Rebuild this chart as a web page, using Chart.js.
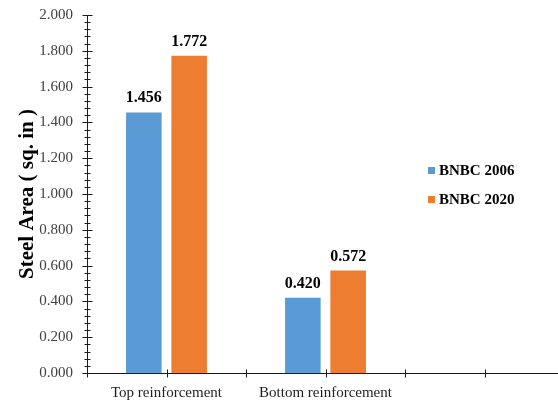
<!DOCTYPE html>
<html>
<head>
<meta charset="utf-8">
<title>Steel Area</title>
<script src="https://cdn.jsdelivr.net/npm/chart.js@4.4.1/dist/chart.umd.min.js"></script>
<style>
  html, body { margin: 0; padding: 0; background: #fff; width: 558px; height: 403px; overflow: hidden; }
  #wrap { position: relative; width: 567px; height: 403px; }
</style>
</head>
<body>
<div id="wrap"><canvas id="chart" width="567" height="403"></canvas></div>
<script>
// Categories along the x axis (blank slots keep the spacing of the axis)
const categories = ["", "Top reinforcement", "", "Bottom reinforcement", "", "", ""];
// Steel area per case, sq. in
const bnbc2006 = [null, 1.456, null, 0.420, null, null, null];
const bnbc2020 = [null, 1.772, null, 0.572, null, null, null];
const seriesNames = ["BNBC 2006", "BNBC 2020"];
const seriesColors = ["#5B9BD5", "#ED7D31"];
// Value axis: range, labelled step and minor step
const yMin = 0, yMax = 2.0, yMajorStep = 0.2, yMinorStep = 0.04;

const SERIF = '"Liberation Serif", "Times New Roman", serif';
const AXIS_COLOR = '#1a1a1a';

function isMajor(v) {
  const r = v / yMajorStep;
  return Math.abs(r - Math.round(r)) < 1e-6;
}

// Tick marks that cross the axis lines (both sides)
const crossTicks = {
  id: 'crossTicks',
  afterDraw(chart) {
    const { ctx, scales: { x, y } } = chart;
    const x0 = Math.round(y.right) + 0.5;
    const y0 = Math.round(x.top) + 0.5;
    ctx.save();
    ctx.strokeStyle = AXIS_COLOR;
    ctx.lineWidth = 1;
    y.ticks.forEach((t, i) => {
      const py = Math.round(y.getPixelForTick(i)) + 0.5;
      const h = isMajor(t.value) ? 5 : 3;
      ctx.beginPath();
      ctx.moveTo(x0 - h, py);
      ctx.lineTo(x0 + h, py);
      ctx.stroke();
    });
    x.ticks.forEach((t, i) => {
      const px = Math.round(x.getPixelForTick(i)) + 0.5;
      ctx.beginPath();
      ctx.moveTo(px, y0 - 4);
      ctx.lineTo(px, y0 + 4);
      ctx.stroke();
    });
    ctx.restore();
  }
};

// Value labels above each bar
const valueLabels = {
  id: 'valueLabels',
  afterDatasetsDraw(chart) {
    const { ctx } = chart;
    ctx.save();
    ctx.font = 'bold 16px ' + SERIF;
    ctx.fillStyle = '#000';
    ctx.textAlign = 'center';
    ctx.textBaseline = 'alphabetic';
    chart.data.datasets.forEach((ds, di) => {
      const meta = chart.getDatasetMeta(di);
      meta.data.forEach((bar, i) => {
        const v = ds.data[i];
        if (v === null || v === undefined) return;
        ctx.fillText(v.toFixed(3), bar.x, bar.y - 10);
      });
    });
    ctx.restore();
  }
};

// Legend drawn at the right of the plot
const sideLegend = {
  id: 'sideLegend',
  afterDraw(chart) {
    const { ctx } = chart;
    ctx.save();
    ctx.font = 'bold 15px ' + SERIF;
    ctx.textBaseline = 'middle';
    ctx.textAlign = 'left';
    chart.data.datasets.forEach((ds, i) => {
      const cy = 171 + i * 28.5;
      ctx.fillStyle = ds.backgroundColor;
      ctx.fillRect(428, Math.round(cy) - 4, 7, 7);
      ctx.fillStyle = '#000';
      ctx.fillText(ds.label, 439, cy + 0.5);
    });
    ctx.restore();
  }
};

new Chart(document.getElementById('chart'), {
  type: 'bar',
  data: {
    labels: categories,
    datasets: [
      { label: seriesNames[0], data: bnbc2006, backgroundColor: seriesColors[0] },
      { label: seriesNames[1], data: bnbc2020, backgroundColor: seriesColors[1] }
    ]
  },
  options: {
    responsive: false,
    animation: false,
    devicePixelRatio: 1,
    layout: { padding: { top: 8, left: 0, right: 0, bottom: 0 } },
    datasets: { bar: { categoryPercentage: 1.14, barPercentage: 0.785 } },
    plugins: { legend: { display: false }, tooltip: { enabled: false } },
    scales: {
      x: {
        offset: false,
        grid: { display: false },
        border: { display: true, color: AXIS_COLOR, width: 1 },
        ticks: {
          autoSkip: false,
          maxRotation: 0,
          padding: 3,
          color: '#1f1f1f',
          font: { family: SERIF, size: 15 }
        },
        afterFit(scale) { scale.height = 30; }
      },
      y: {
        min: yMin,
        max: yMax,
        grid: { display: false },
        border: { display: true, color: AXIS_COLOR, width: 1 },
        ticks: {
          stepSize: yMinorStep,
          autoSkip: false,
          padding: 6,
          color: '#404040',
          font: { family: SERIF, size: 15 },
          callback: (v) => isMajor(v) ? Number(v).toFixed(3) : ''
        },
        title: {
          display: true,
          text: 'Steel Area ( sq. in )',
          color: '#000',
          font: { family: SERIF, size: 21, weight: 'bold' },
          padding: { top: 15, bottom: 0 }
        },
        afterFit(scale) { scale.width = 87; }
      }
    }
  },
  plugins: [crossTicks, valueLabels, sideLegend]
});
</script>
</body>
</html>
